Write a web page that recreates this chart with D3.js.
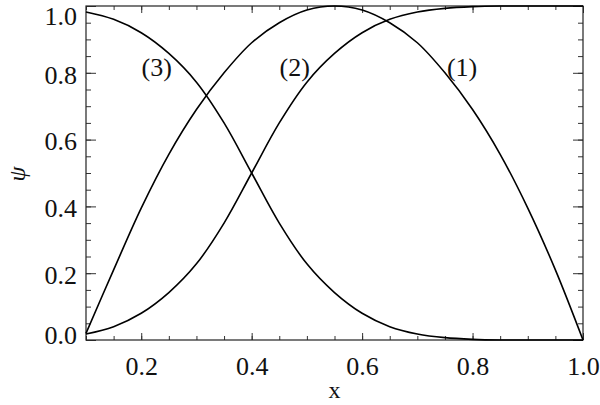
<!DOCTYPE html>
<html>
<head>
<meta charset="utf-8">
<script src="https://cdn.jsdelivr.net/npm/d3@7"></script>
<style>
  body { margin: 0; background: #fff; }
</style>
</head>
<body>
<svg id="chart" width="600" height="405"></svg>
<script>
// values
const xs   = [0.10, 0.15, 0.20, 0.25, 0.30, 0.35, 0.40, 0.45, 0.50, 0.55, 0.60, 0.65, 0.70, 0.75, 0.80, 0.85, 0.90, 0.95, 1.00];
const psi1 = [0.018, 0.040, 0.080, 0.142, 0.228, 0.350, 0.500, 0.650, 0.772, 0.858, 0.920, 0.960, 0.982, 0.993, 0.998, 1.0, 1.0, 1.0, 1.0];
const psi2 = [0.020, 0.210, 0.395, 0.556, 0.690, 0.800, 0.890, 0.950, 0.988, 1.0, 0.988, 0.950, 0.890, 0.800, 0.690, 0.556, 0.395, 0.210, 0.0];
const psi3 = [0.982, 0.960, 0.920, 0.858, 0.772, 0.650, 0.500, 0.350, 0.228, 0.142, 0.080, 0.040, 0.018, 0.007, 0.002, 0.0, 0.0, 0.0, 0.0];
const curveNames = ["(1)", "(2)", "(3)"];
const xTicks = [0.2, 0.4, 0.6, 0.8, 1.0];
const yTicks = [0.0, 0.2, 0.4, 0.6, 0.8, 1.0];

const FONT = '"Liberation Serif", "DejaVu Serif", serif';
const svg = d3.select("#chart");
const mLeft = 86, mRight = 583, mTop = 6, mBottom = 340;

const x = d3.scaleLinear().domain([0.1, 1.0]).range([mLeft, mRight]);
const y = d3.scaleLinear().domain([0.0, 1.0]).range([mBottom, mTop]);

const xMinor = d3.range(0.1, 1.0001, 0.05);
const yMinor = d3.range(0.0, 1.0001, 0.05);
const fmt = d3.format(".1f");

function ticks(g) {
  g.attr("font-family", FONT).attr("font-size", 26);
  g.select(".domain").remove();
  g.selectAll("line").attr("stroke", "#333");
  g.selectAll("text").attr("fill", "#111");
}

// minor ticks, all four sides, pointing inward
svg.append("g").attr("transform", `translate(0,${mBottom})`)
  .call(d3.axisBottom(x).tickValues(xMinor).tickSize(-4).tickFormat("")).call(ticks);
svg.append("g").attr("transform", `translate(0,${mTop})`)
  .call(d3.axisTop(x).tickValues(xMinor).tickSize(-4).tickFormat("")).call(ticks);
svg.append("g").attr("transform", `translate(${mLeft},0)`)
  .call(d3.axisLeft(y).tickValues(yMinor).tickSize(-5).tickFormat("")).call(ticks);
svg.append("g").attr("transform", `translate(${mRight},0)`)
  .call(d3.axisRight(y).tickValues(yMinor).tickSize(-5).tickFormat("")).call(ticks);

// major ticks
svg.append("g").attr("transform", `translate(0,${mBottom})`)
  .call(d3.axisBottom(x).tickValues(xTicks).tickSize(-7).tickPadding(17).tickFormat(fmt)).call(ticks);
svg.append("g").attr("transform", `translate(0,${mTop})`)
  .call(d3.axisTop(x).tickValues(xTicks).tickSize(-7).tickFormat("")).call(ticks);
const yl = svg.append("g").attr("transform", `translate(${mLeft},0)`)
  .call(d3.axisLeft(y).tickValues(yTicks).tickSize(-10).tickPadding(9).tickFormat(fmt)).call(ticks);
svg.append("g").attr("transform", `translate(${mRight},0)`)
  .call(d3.axisRight(y).tickValues(yTicks).tickSize(-10).tickFormat("")).call(ticks);

// keep edge labels of y axis inside the picture
yl.selectAll(".tick text")
  .attr("transform", d => {
    const py = y(d) + 2;
    const cy = Math.max(16, Math.min(335, py));
    return `translate(0,${cy - y(d)})`;
  });

// frame
svg.append("rect")
  .attr("x", mLeft).attr("y", mTop)
  .attr("width", mRight - mLeft).attr("height", mBottom - mTop)
  .attr("fill", "none").attr("stroke", "#222").attr("stroke-width", 1.2);

// curves
const line = d3.line()
  .x(d => x(d[0]))
  .y(d => y(d[1]))
  .curve(d3.curveCatmullRom.alpha(0.5));

const series = [psi1, psi2, psi3];
series.forEach(s => {
  svg.append("path")
    .datum(xs.map((v, i) => [v, s[i]]))
    .attr("fill", "none")
    .attr("stroke", "#000")
    .attr("stroke-width", 1.6)
    .attr("d", line);
});

// curve labels
const labelAt = [[0.781, 0.79], [0.478, 0.79], [0.228, 0.79]];
svg.selectAll(".clabel")
  .data(curveNames)
  .enter().append("text")
  .attr("class", "clabel")
  .attr("x", (d, i) => x(labelAt[i][0]))
  .attr("y", (d, i) => y(labelAt[i][1]))
  .attr("text-anchor", "middle")
  .attr("font-family", FONT)
  .attr("font-size", 26)
  .attr("fill", "#111")
  .text(d => d);

// axis titles
svg.append("text")
  .attr("x", x(0.55)).attr("y", 398)
  .attr("text-anchor", "middle")
  .attr("font-family", FONT)
  .attr("font-size", 24)
  .attr("fill", "#111")
  .text("x");

svg.append("text")
  .attr("transform", "translate(25,174) rotate(-90)")
  .attr("text-anchor", "middle")
  .attr("font-family", FONT)
  .attr("font-size", 24)
  .attr("font-style", "italic")
  .attr("fill", "#111")
  .text("ψ");
</script>
</body>
</html>
